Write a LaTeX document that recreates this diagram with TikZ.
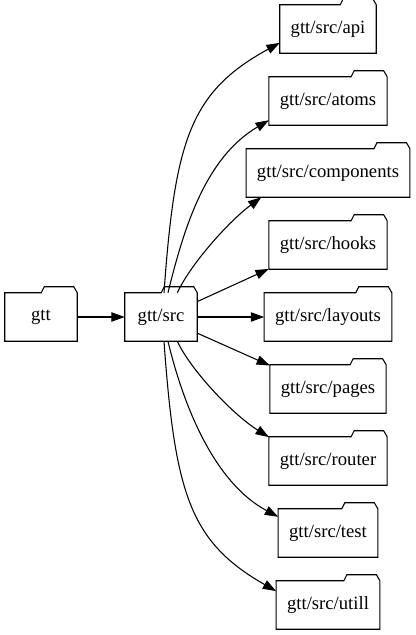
\documentclass[tikz,border=0pt]{standalone}
\usepackage{fontspec}
\setmainfont{Liberation Serif}
\usepackage{tikz}
\usetikzlibrary{positioning, arrows.meta, calc}

\begin{document}
\begin{tikzpicture}[
    x=0.75pt, y=0.75pt,
    folder/.style={rectangle, minimum height=36pt, minimum width=54pt, inner xsep=8pt, font=\fontsize{14}{16}\selectfont},
    link/.style={-{Triangle[length=10pt, width=7pt]}, line width=0.8pt}
]
\useasboundingbox (0,0) rectangle (416,-635);

\node[folder] (gtt) at (41,-317) {gtt};
\node[folder] (src) at (161,-317) {gtt/src};

\foreach \n [count=\i from 0] in {api,atoms,components,hooks,layouts,pages,router,test,utill}
    \node[folder] (\n) at (328,-29-72*\i) {gtt/src/\n};

% folder outlines with the tab
\foreach \n in {gtt,src,api,atoms,components,hooks,layouts,pages,router,test,utill}
    \draw[line width=0.8pt] (\n.south west) -- (\n.north west) -- ($(\n.north east)+(-36,0)$)
        -- ($(\n.north east)+(-33,6)$) -- ($(\n.north east)+(-3.5,6)$) -- (\n.north east)
        -- (\n.south east) -- cycle;

\draw[link] (gtt) -- (src);

\draw[link] (src.83) .. controls (175,-140) and (190,-92) .. (api.196);
\draw[link] (src.74) .. controls (184,-228) and (205,-158) .. (atoms.198);
\draw[link] (src.56) .. controls (190,-265) and (228,-222) .. (components.200);
\draw[link] (src.23) -- (hooks.202);
\draw[link] (src) -- (layouts);
\draw[link] (src.336) -- (pages.158);
\draw[link] (src.304) .. controls (190,-369) and (232,-414) .. (router.158);
\draw[link] (src.286) .. controls (184,-408) and (215,-483) .. (test.162);
\draw[link] (src.277) .. controls (175,-494) and (190,-542) .. (utill.165);

\end{tikzpicture}
\end{document}
